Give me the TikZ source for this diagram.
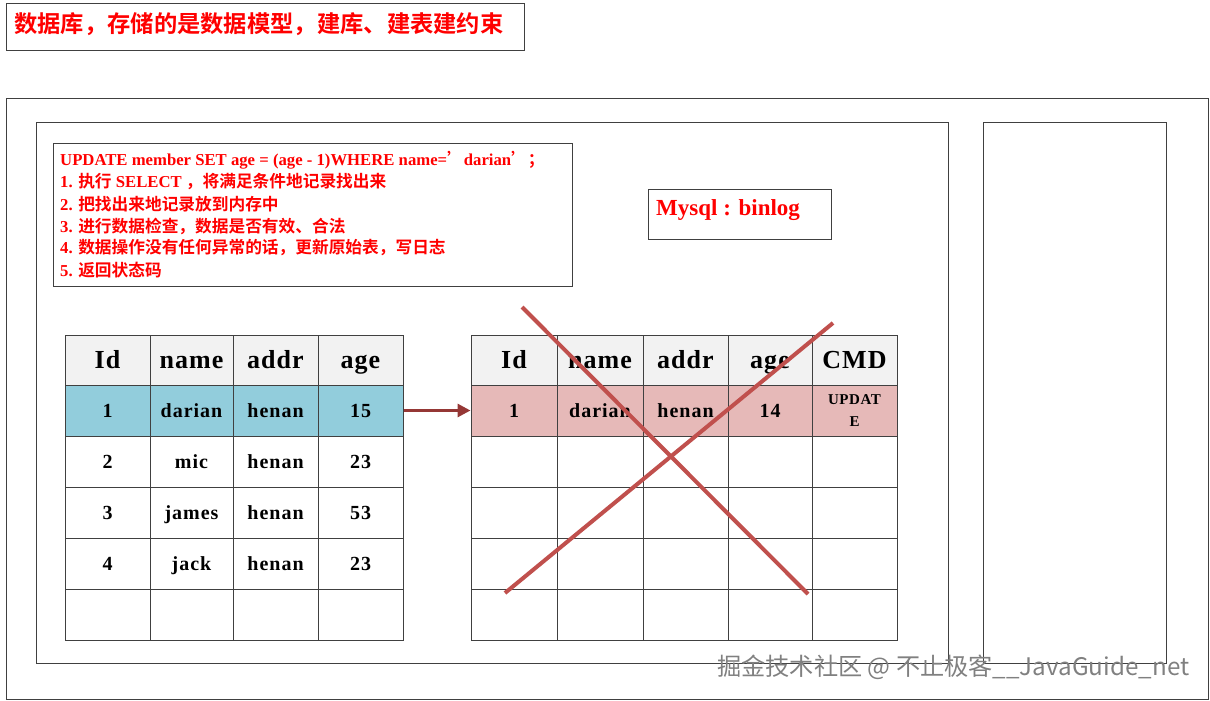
\documentclass[tikz,border=0pt]{standalone}
\usepackage{fontspec}
\setmainfont{Liberation Serif}
\newfontfamily\cjk{Noto Sans CJK SC}[BoldFont=* Bold]
\newfontfamily\wide{Liberation Serif}[LetterSpace=4]
\newfontfamily\wider{Liberation Serif}[LetterSpace=5]
\newfontfamily\wmfont{Noto Sans CJK SC}
\usetikzlibrary{arrows.meta}
\definecolor{myred}{HTML}{FF0000}
\definecolor{frame}{HTML}{404040}
\definecolor{hdfill}{HTML}{F2F2F2}
\definecolor{bluefill}{HTML}{92CDDC}
\definecolor{pinkfill}{HTML}{E6B9B8}
\definecolor{arrowred}{HTML}{953735}
\definecolor{xred}{HTML}{C0504D}
\newcommand\zh[1]{{\cjk\bfseries #1}}
\tikzset{
  box/.style={draw=frame, line width=1pt},
  cell/.style={draw=frame, line width=1pt, inner sep=0pt, minimum width=#1},
  hd/.style={font=\wide\bfseries\fontsize{26}{28}\selectfont, text=black, inner sep=0pt, text height=20pt, text depth=3pt},
  dt/.style={font=\wider\bfseries\fontsize{20}{22}\selectfont, text=black, inner sep=0pt, text height=14pt, text depth=1pt},
  sql/.style={anchor=west, inner sep=0pt, text=myred, font=\bfseries\fontsize{16.7}{18}\selectfont},
}
\begin{document}
\begin{tikzpicture}[x=1pt,y=-1pt]
\useasboundingbox (0,0) rectangle (1210,701);
% title
\node[box, anchor=north west, minimum width=518pt, minimum height=47pt, inner sep=0pt] (title) at (6,3) {};
\node[anchor=west, inner sep=0pt, text=myred, font=\cjk\bfseries\fontsize{23.3}{25}\selectfont] (titletext) at (14,24) {数据库，存储的是数据模型，建库、建表建约束};
% frames
\node[box, anchor=north west, minimum width=1202pt, minimum height=601pt, inner sep=0pt] (outer) at (6,98) {};
\node[box, anchor=north west, minimum width=912pt, minimum height=541pt, inner sep=0pt] (inner) at (36,122) {};
\node[box, anchor=north west, minimum width=183pt, minimum height=541pt, inner sep=0pt] (rightbox) at (983,122) {};
% SQL box
\node[box, anchor=north west, minimum width=519pt, minimum height=143pt, inner sep=0pt] (sqlbox) at (53,143) {};
\node[sql] (s0) at (60,160) {UPDATE member SET age = (age - 1)WHERE name=\zh{’}darian\zh{’；}};
\node[sql] (s1) at (60,182) {1. \zh{执行} SELECT \zh{，将满足条件地记录找出来}};
\node[sql] (s2) at (60,204) {2. \zh{把找出来地记录放到内存中}};
\node[sql] (s3) at (60,226) {3. \zh{进行数据检查，数据是否有效、合法}};
\node[sql] (s4) at (60,248) {4. \zh{数据操作没有任何异常的话，更新原始表，写日志}};
\node[sql] (s5) at (60,270) {5. \zh{返回状态码}};
% Mysql box
\node[box, anchor=north west, minimum width=183pt, minimum height=50pt, inner sep=0pt] (mysql) at (648,189) {};
\node[anchor=west, inner sep=0pt, text=myred, font=\bfseries\fontsize{23}{25}\selectfont] (mysqltext) at (656,210) {Mysql : binlog};
% left table
\foreach \x/\w [count=\c] in {107.5/85,191.5/83,275.5/85,360.5/85}{
  \node[cell=\w pt, minimum height=50pt, fill=hdfill] (L-1-\c) at (\x,360) {};
  \node[cell=\w pt, minimum height=51pt, fill=bluefill] (L-2-\c) at (\x,410.5) {};
  \foreach \y [count=\r from 3] in {461.5,512.5,563.5,614.5}
    \node[cell=\w pt, minimum height=51pt] (L-\r-\c) at (\x,\y) {};
}
% right table
\foreach \x/\w [count=\c] in {514/86,600/86,685.5/85,770/84,854.5/85}{
  \node[cell=\w pt, minimum height=50pt, fill=hdfill] (R-1-\c) at (\x,360) {};
  \node[cell=\w pt, minimum height=51pt, fill=pinkfill] (R-2-\c) at (\x,410.5) {};
  \foreach \y [count=\r from 3] in {461.5,512.5,563.5,614.5}
    \node[cell=\w pt, minimum height=51pt] (R-\r-\c) at (\x,\y) {};
}
% left texts
\foreach \t [count=\c] in {Id,name,addr,age} \node[hd] at (L-1-\c) {\t};
\foreach \t [count=\c] in {1,darian,henan,15} \node[dt] at (L-2-\c) {\t};
\foreach \t [count=\c] in {2,mic,henan,23} \node[dt] at (L-3-\c) {\t};
\foreach \t [count=\c] in {3,james,henan,53} \node[dt] at (L-4-\c) {\t};
\foreach \t [count=\c] in {4,jack,henan,23} \node[dt] at (L-5-\c) {\t};
% right texts
\foreach \t [count=\c] in {Id,name,addr,age,CMD} \node[hd] at (R-1-\c) {\t};
\foreach \t [count=\c] in {1,darian,henan,14} \node[dt] at (R-2-\c) {\t};
\node[align=center, inner sep=0pt, font=\wide\bfseries\fontsize{15}{22}\selectfont] (cmd) at (R-2-5) {UPDAT\\E};
% arrow
\draw[arrowred, line width=3pt, -{Triangle[length=13pt,width=13pt]}] (L-2-4.east) -- (R-2-1.west);
% red cross
\coordinate (xa1) at (522,307);
\coordinate (xa2) at (808,594);
\coordinate (xb1) at (833,323);
\coordinate (xb2) at (505,593);
\draw[xred, line width=4pt] (xa1) -- (xa2);
\draw[xred, line width=4pt] (xb1) -- (xb2);
% watermark
\node[anchor=west, inner sep=0pt, text=gray, font=\wmfont\fontsize{24.2}{26}\selectfont] (wm) at (717,667) {掘金技术社区 @ 不止极客\_\_JavaGuide\_net};
\end{tikzpicture}
\end{document}
